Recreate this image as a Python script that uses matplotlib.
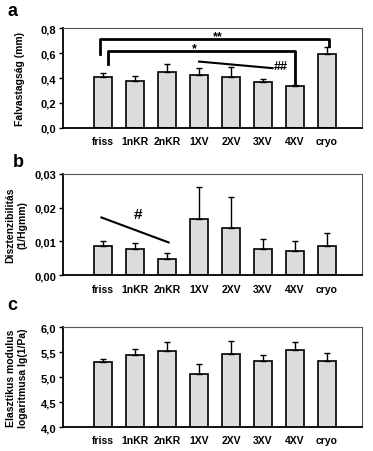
import matplotlib
matplotlib.use('Agg')
import matplotlib.pyplot as plt

# groups shared by all three panels
groups = ['friss', '1nKR', '2nKR', '1XV', '2XV', '3XV', '4XV', 'cryo']

# a: wall thickness (mm)
thick_mean = [0.412, 0.380, 0.447, 0.426, 0.405, 0.367, 0.334, 0.590]
thick_err = [0.028, 0.035, 0.066, 0.053, 0.082, 0.022, 0.013, 0.062]

# b: distensibility (1/Hgmm)
dist_mean = [0.0087, 0.0079, 0.0049, 0.0166, 0.0139, 0.0079, 0.0071, 0.0087]
dist_err = [0.0014, 0.0016, 0.0018, 0.0094, 0.0093, 0.0028, 0.0030, 0.0039]

# c: log elastic modulus
elast_mean = [5.30, 5.44, 5.52, 5.07, 5.47, 5.32, 5.55, 5.32]
elast_err = [0.07, 0.12, 0.19, 0.20, 0.25, 0.12, 0.15, 0.17]

BAR = '#dcdcdc'
FONT = 'Liberation Sans'

plt.rcParams['font.family'] = [FONT, 'DejaVu Sans']
plt.rcParams['font.weight'] = 'bold'


def panel(fig, rect, mean, err, ylim, yticks, yticklabels, ylabel, labelpad):
    ax = fig.add_axes(rect)
    x = list(range(len(groups)))
    ax.bar(x, mean, width=0.58, color=BAR, edgecolor='black', linewidth=1.2, zorder=2)
    ax.errorbar(x, mean, yerr=[[0] * len(err), err], fmt='none', ecolor='black',
                elinewidth=1.0, capsize=2.5, capthick=1.0, zorder=3)
    ax.set_xlim(-1.25, 8.1)
    ax.set_ylim(*ylim)
    ax.set_yticks(yticks)
    ax.set_yticklabels(yticklabels, fontsize=8, fontweight='bold')
    ax.set_xticks(x)
    ax.set_xticklabels(groups, fontsize=7.5, fontweight='bold')
    ax.tick_params(axis='x', length=0, pad=6)
    ax.tick_params(axis='y', length=3, width=1, pad=2)
    for s in ('left', 'bottom'):
        ax.spines[s].set_linewidth(1.3)
    for s in ('top', 'right'):
        ax.spines[s].set_linewidth(0.8)
        ax.spines[s].set_color('#555555')
    ax.set_ylabel(ylabel, fontsize=7.5, fontweight='bold', labelpad=labelpad)
    return ax


fig = plt.figure(figsize=(3.73, 4.52), dpi=100)

ax_a = panel(fig, [0.169, 0.715, 0.802, 0.220], thick_mean, thick_err, (0, 0.8),
             [0, 0.2, 0.4, 0.6, 0.8], ['0,0', '0,2', '0,4', '0,6', '0,8'],
             'Falvastagság (mm)', 11)
ax_b = panel(fig, [0.169, 0.389, 0.802, 0.224], dist_mean, dist_err, (0, 0.03),
             [0, 0.01, 0.02, 0.03], ['0,00', '0,01', '0,02', '0,03'],
             'Disztenzibilitás\n(1/Hgmm)', 5)
ax_c = panel(fig, [0.169, 0.053, 0.802, 0.221], elast_mean, elast_err, (4.0, 6.0),
             [4.0, 4.5, 5.0, 5.5, 6.0], ['4,0', '4,5', '5,0', '5,5', '6,0'],
             'Elasztikus modulus\nlogaritmusa lg(1/Pa)', 9)

# significance brackets in panel a
lw = 2.0
ax_a.plot([-0.1, -0.1, 7.05, 7.05], [0.595, 0.715, 0.715, 0.66], color='black', lw=lw)
ax_a.text(3.6, 0.735, '**', ha='center', va='center', fontsize=9, fontweight='bold')
ax_a.plot([0.15, 0.15, 6.0, 6.0], [0.515, 0.62, 0.62, 0.355], color='black', lw=lw)
ax_a.text(2.85, 0.64, '*', ha='center', va='center', fontsize=9, fontweight='bold')
ax_a.plot([3.0, 5.3], [0.533, 0.48], color='black', lw=1.5)
ax_a.text(5.55, 0.50, '##', ha='center', va='center', fontsize=9, fontweight='bold')

# trend mark in panel b
ax_b.plot([-0.05, 2.05], [0.0171, 0.0097], color='black', lw=1.5)
ax_b.text(1.1, 0.0182, '#', ha='center', va='center', fontsize=11, fontweight='bold')

# panel letters
fig.text(0.02, 0.975, 'a', fontsize=13, fontweight='bold', va='center')
fig.text(0.035, 0.640, 'b', fontsize=13, fontweight='bold', va='center')
fig.text(0.02, 0.325, 'c', fontsize=13, fontweight='bold', va='center')

fig.savefig('out.png', dpi=100)
